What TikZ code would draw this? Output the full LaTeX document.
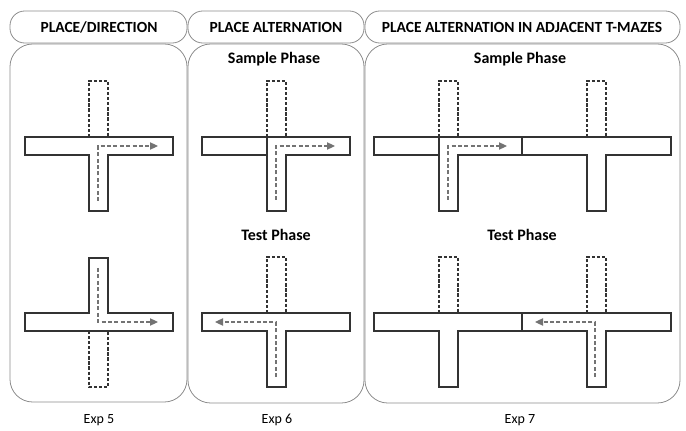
\documentclass[tikz,border=0pt]{standalone}
\usepackage{fontspec}
\setmainfont{Carlito}
\usetikzlibrary{arrows.meta}

\tikzset{
  headbox/.style={draw=black!45, line width=0.6pt, rounded corners=11pt},
  panel/.style={draw=black!45, line width=0.6pt, rounded corners=17pt},
  wall/.style={draw=black!80, line width=0.9pt},
  door/.style={draw=black!80, line width=0.8pt, dash pattern=on 2.4pt off 1.4pt},
  route/.style={draw=black!55, line width=0.8pt, dash pattern=on 3pt off 1.8pt,
    -{Triangle[length=6pt,width=5.5pt]}},
  headtxt/.style={font=\fontsize{11.6}{13}\selectfont\bfseries},
  phasetxt/.style={font=\fontsize{12}{14}\selectfont\bfseries},
  exptxt/.style={font=\fontsize{10.5}{12}\selectfont},
}

\begin{document}
\begin{tikzpicture}[x=0.75pt,y=-0.75pt]

  \useasboundingbox (0,0) rectangle (686,431);

  % header boxes
  \draw[headbox] (10,11) rectangle (187,43);
  \draw[headbox] (188,11) rectangle (364,43);
  \draw[headbox] (365,11) rectangle (680,43);
  \node[headtxt] (hdir) at (99,27) {PLACE/DIRECTION};
  \node[headtxt] (halt) at (276,27) {PLACE ALTERNATION};
  \node[headtxt] (hadj) at (522,27) {PLACE ALTERNATION IN ADJACENT T-MAZES};

  % panels
  \draw[panel] (10,44) rectangle (187,402);
  \draw[panel] (188,44) rectangle (364,403);
  \draw[panel] (365,44) rectangle (680,403);

  % phase labels
  \node[phasetxt] (sam6) at (274,59) {Sample Phase};
  \node[phasetxt] (tst6) at (276,235) {Test Phase};
  \node[phasetxt] (sam7) at (520,59) {Sample Phase};
  \node[phasetxt] (tst7) at (522,235) {Test Phase};

  % experiment labels
  \node[exptxt] (exp5) at (99,420) {Exp 5};
  \node[exptxt] (exp6) at (277,420) {Exp 6};
  \node[exptxt] (exp7) at (520,420) {Exp 7};

  % single T-mazes, stem down
  \foreach \l/\s/\t in {25/89/137, 202/267/137, 202/267/313}
  {
    \draw[wall] (\l,\t) -- ++(148,0) -- ++(0,18) -- (\s+19,\t+18) -- ++(0,56)
      -- ++(-19,0) -- ++(0,-56) -- (\l,\t+18) -- cycle;
    \draw[door] (\s,\t) -- ++(0,-56) -- ++(19,0) -- ++(0,56);
  }

  % T-maze with stem up
  \draw[wall] (25,313) -- (89,313) -- (89,258) -- (108,258) -- (108,313)
    -- (173,313) -- (173,331) -- (25,331) -- cycle;
  \draw[door] (89,331) -- (89,387) -- (108,387) -- (108,331);

  % adjacent T-mazes
  \foreach \t in {137,313}
  {
    \draw[wall] (374,\t) -- (671,\t) -- ++(0,18) -- (606,\t+18) -- ++(0,56)
      -- ++(-19,0) -- ++(0,-56) -- (458,\t+18) -- ++(0,56) -- ++(-19,0)
      -- ++(0,-56) -- (374,\t+18) -- cycle;
    \draw[wall] (522,\t) -- ++(0,18);
    \foreach \s in {439,587}
      \draw[door] (\s,\t) -- ++(0,-56) -- ++(19,0) -- ++(0,56);
  }

  % blocked arms in sample phase
  \draw[wall] (267,137) -- (267,155);
  \draw[wall] (439,137) -- (439,155);

  % routes
  \draw[route] (98,201) -- (98,146) -- (158,146);
  \draw[route] (98,268) -- (98,322) -- (158,322);
  \draw[route] (276,200) -- (276,146) -- (335,146);
  \draw[route] (276,377) -- (276,322) -- (215,322);
  \draw[route] (448,200) -- (448,146) -- (507,146);
  \draw[route] (595,377) -- (595,322) -- (535,322);

\end{tikzpicture}
\end{document}
